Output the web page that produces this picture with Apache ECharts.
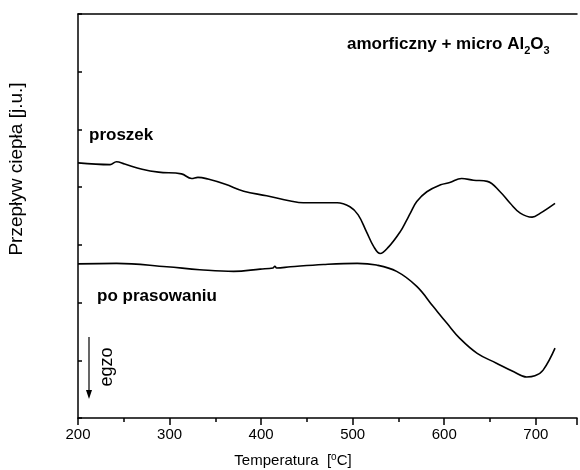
<!DOCTYPE html>
<html>
<head>
<meta charset="utf-8">
<title>DSC</title>
<script type="text/javascript" src="https://cdn.jsdelivr.net/npm/echarts@6/dist/echarts.min.js"></script>
<style>
	body { margin: 0; background: #fff; }
</style>
</head>
<body>
	<div id="main" style="width: 580px; height: 470px;"></div>
<script type="text/javascript">
	// temperatura [C] i przeplyw ciepla [j.u.]
	var proszekT = [200, 235, 242, 251, 270, 288, 313, 324, 331, 342, 361, 381, 406, 432, 446, 464, 483, 497, 506, 515, 523, 530, 539, 552, 559, 563, 570, 581, 596, 606, 619, 632, 647, 661, 672, 683, 696, 705, 721];
	var proszekY = [4.42, 4.39, 4.44, 4.40, 4.31, 4.26, 4.23, 4.15, 4.17, 4.14, 4.05, 3.93, 3.85, 3.76, 3.73, 3.73, 3.73, 3.66, 3.52, 3.23, 2.97, 2.85, 2.96, 3.23, 3.43, 3.55, 3.75, 3.92, 4.04, 4.08, 4.15, 4.12, 4.10, 3.92, 3.72, 3.55, 3.48, 3.55, 3.72];

	var prasT = [200, 242, 297, 333, 370, 399, 413, 415, 417, 432, 468, 505, 526, 548, 570, 588, 603, 617, 636, 657, 676, 690, 699, 708, 721];
	var prasY = [2.67, 2.68, 2.62, 2.57, 2.54, 2.58, 2.60, 2.63, 2.60, 2.62, 2.66, 2.68, 2.65, 2.54, 2.28, 1.93, 1.64, 1.38, 1.12, 0.95, 0.80, 0.71, 0.73, 0.83, 1.21];

	var xTicks = [200, 300, 400, 500, 600, 700];

	function pairs(xs, ys) {
		var out = [];
		for (var i = 0; i < xs.length; i++) out.push([xs[i], ys[i]]);
		return out;
	}

	var myChart = echarts.init(document.getElementById('main'));
	var font = 'Liberation Sans, Arial, sans-serif';
	var option = {
		animation: false,
		backgroundColor: '#fff',
		grid: { left: 78, top: 14, width: 499, height: 404 },
		xAxis: [{
			type: 'value', min: 200, max: 745, interval: 100,
			axisLine: { lineStyle: { color: '#000', width: 1.5 } },
			axisTick: { length: 7, lineStyle: { color: '#000', width: 1.5 } },
			minorTick: { show: true, splitNumber: 2, length: 4, lineStyle: { color: '#000', width: 1.5 } },
			splitLine: { show: false },
			axisLabel: {
				color: '#000', fontFamily: font, fontSize: 15, margin: 9,
				formatter: function (v) { return xTicks.indexOf(v) >= 0 ? String(v) : ''; }
			}
		}, {
			type: 'value', min: 200, max: 745, position: 'top',
			axisLine: { lineStyle: { color: '#000', width: 1.5 } },
			axisTick: { show: false }, axisLabel: { show: false }, splitLine: { show: false }
		}],
		yAxis: {
			type: 'value', min: 0, max: 7, interval: 1,
			axisLine: { lineStyle: { color: '#000', width: 1.5 } },
			axisTick: { inside: true, length: 4, lineStyle: { color: '#000', width: 1.5 } },
			axisLabel: { show: false },
			splitLine: { show: false }
		},
		series: [{
			name: 'proszek', type: 'line', smooth: 0.4, showSymbol: false,
			lineStyle: { color: '#000', width: 1.6 },
			data: pairs(proszekT, proszekY)
		}, {
			name: 'po prasowaniu', type: 'line', smooth: 0.4, showSymbol: false,
			lineStyle: { color: '#000', width: 1.6 },
			data: pairs(prasT, prasY)
		}],
		graphic: [{
			type: 'text', left: 89, top: 127,
			style: { text: 'proszek', font: 'bold 17px ' + font, fill: '#000' }
		}, {
			type: 'text', left: 97, top: 288,
			style: { text: 'po prasowaniu', font: 'bold 17px ' + font, fill: '#000' }
		}, {
			type: 'text', left: 347, top: 36,
			style: {
				text: 'amorficzny + micro Al{s|2}O{s|3}', font: 'bold 17px ' + font, fill: '#000',
				rich: { s: { font: 'bold 11px ' + font, fill: '#000', padding: [12, 0, 0, 0] } }
			}
		}, {
			type: 'text', x: 17, y: 169, rotation: Math.PI / 2,
			style: { text: 'Przepływ ciepła [j.u.]', font: '19px ' + font, fill: '#000', align: 'center', verticalAlign: 'middle' }
		}, {
			type: 'text', x: 293, y: 461,
			style: {
				text: 'Temperatura  [{sup|o}C]', font: '15px ' + font, fill: '#000', align: 'center', verticalAlign: 'middle',
				rich: { sup: { font: '10px ' + font, fill: '#000', padding: [0, 0, 8, 0] } }
			}
		}, {
			type: 'text', x: 107, y: 367, rotation: Math.PI / 2,
			style: { text: 'egzo', font: '18px ' + font, fill: '#000', align: 'center', verticalAlign: 'middle' }
		}, {
			type: 'line', shape: { x1: 89, y1: 337, x2: 89, y2: 392 },
			style: { stroke: '#000', lineWidth: 1.2 }
		}, {
			type: 'polygon', shape: { points: [[86, 390], [92, 390], [89, 399]] },
			style: { fill: '#000' }
		}]
	};
	myChart.setOption(option);
</script>
</body>
</html>
